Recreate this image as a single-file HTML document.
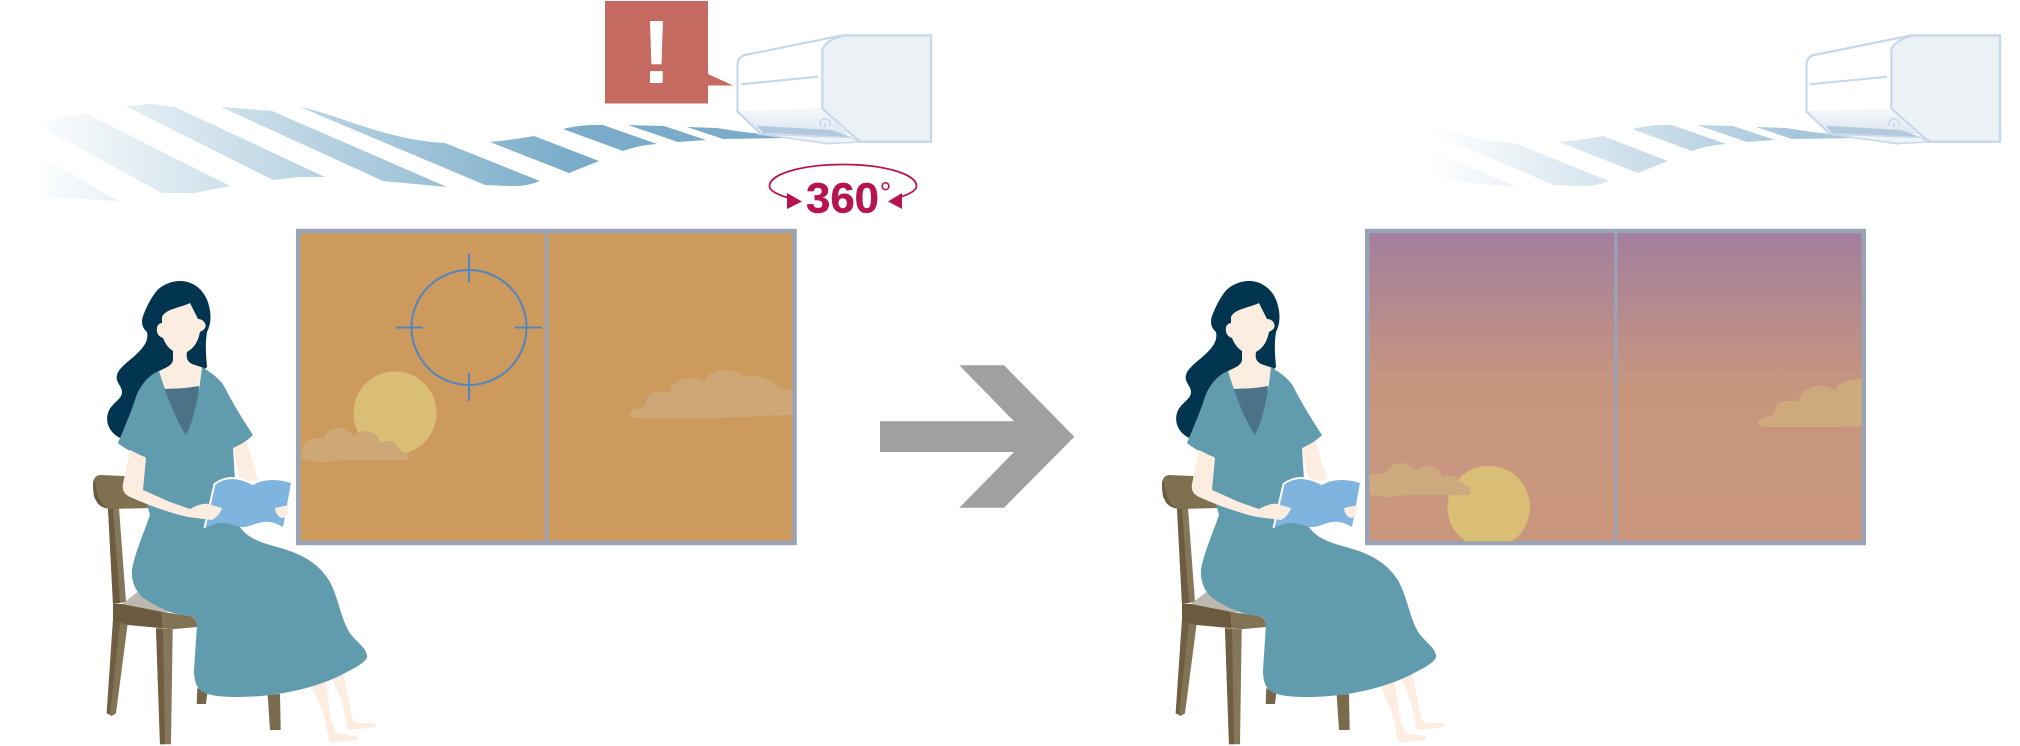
<!DOCTYPE html>
<html><head><meta charset="utf-8"><title>Diagram</title>
<style>html,body{margin:0;padding:0;background:#fff}svg{display:block}</style></head>
<body>
<svg xmlns="http://www.w3.org/2000/svg" width="2020" height="746" viewBox="0 0 2020 746">
<defs>
<linearGradient id="g1" gradientUnits="userSpaceOnUse" x1="25" y1="0" x2="570" y2="0"><stop offset="0" stop-color="#fff"/><stop offset="1" stop-color="#7aacc9"/></linearGradient>
<linearGradient id="g2" gradientUnits="userSpaceOnUse" x1="360" y1="0" x2="730" y2="0"><stop offset="0" stop-color="#fff"/><stop offset="1" stop-color="#a6c6da"/></linearGradient>
<linearGradient id="low" x1="0" y1="0" x2="0" y2="1"><stop offset="0" stop-color="#f6f9fb"/><stop offset="1" stop-color="#dde7f1"/></linearGradient>
<linearGradient id="sky" x1="0" y1="0" x2="0" y2="1"><stop offset="0" stop-color="#a37f9e"/><stop offset=".5" stop-color="#c7957e"/><stop offset="1" stop-color="#ca977e"/></linearGradient>
<clipPath id="clipR"><rect x="1369.5" y="233" width="492.5" height="308.5"/></clipPath>
<g id="bands">
<path d="M300 107 C340 115 385 140 445 143 L540 181 Q525 187 510 186 L485 185 Z"/>
<path d="M490 142 Q512 140 534 136 L599 161 L569 173 Z"/>
<path d="M563 129 Q583 124 603 125 L657 144 Q640 145 623 151 Z"/>
<path d="M628 125 L664 126 L706 140 L678 142 Z"/>
<path d="M687 127 L717 128 C730 130 742 132 753 133 L790 138 L723 139 Z"/>
<path d="M221 107 L272 111 L447 187 L383 181 Z"/>
<path d="M125 106 L152 104 L175 107 L325 177 L300 177 L273 180 Z"/>
<path d="M41 123 L85 113 L230 186 L195 193 L162 193 L41 127 Z"/>
<path d="M41 157 L118 201 L48 197 L41 195 Z"/>
</g>
<g id="ac" stroke-linejoin="round">
<path d="M737.5 66 Q737.5 57 745 55 L841.7 35.5 L931 35.5 L931 141.7 L862 141.7 L846 141.5 L828 143.5 L760 133 L737.5 111.5 Z" fill="#fff" stroke="#c6d8ea" stroke-width="2.2"/>
<path d="M738 111 L822.3 108.3 L848 134 L757 131 Z" fill="url(#low)"/>
<path d="M756.7 125.7 L832 130 L851 137 L763 133 Z" fill="#b2c9de"/>
<path d="M758 134 L851 137.5 L861 142 L828 143.5 Z" fill="#eef3f8" stroke="#c6d8ea" stroke-width="1.4"/>
<path d="M820.5 126 A5 5 0 1 1 829.5 126" fill="none" stroke="#c6d8ea" stroke-width="1.5"/>
<path d="M825 123 L825 127" stroke="#b2c9de" stroke-width="1.2"/>
<path d="M740.7 84.3 L818.3 76.7" stroke="#c6d8ea" stroke-width="2.2" fill="none"/>
<path d="M737.5 111.5 L760 133" stroke="#c6d8ea" stroke-width="2.2" fill="none"/>
<path d="M822.3 50 C824 43 835 37 845 35.5 L931 35.5 L931 141.7 L862 141.7 Q858 140 852 135 L822.3 108.3 Z" fill="#ecf1f6" stroke="#c6d8ea" stroke-width="2.2"/>
</g>
<g id="woman">
<path d="M197.3 688 L207.3 693 L206 704 L196.7 704 Z" fill="#75664a"/>
<path d="M267.7 695 L280 694 L280.7 730 L270 730 Z" fill="#7a6b4c"/>
<path d="M108 508 L119 508 L126 602 L113 604 Z" fill="#85775a"/>
<path d="M108 508 L113 508 L120 603 L113 604 Z" fill="#6d5c40"/>
<path d="M93 483 Q94 475 101 475 L143 477 L150 508 L110 509 Q98 507 96 500 Z" fill="#7f7150"/>
<path d="M93 483 Q93 498 96 500 Q98 507 110 509 L103 505 Q96 495 95 480 Z" fill="#6b5a3f"/>
<path d="M122 604 L140 590 L175 600 L172 612 L162 612 Z" fill="#bcb8b0"/>
<path d="M113 620 L127.7 623.3 L116 713.3 L111.7 716 L106.7 713.3 Z" fill="#817354"/>
<path d="M113 620 L120 622 L110 714.5 L106.7 713.3 Z" fill="#6f5e42"/>
<path d="M156 628.3 L172.7 629.3 L171 744.3 L160 744.3 Z" fill="#85775a"/>
<path d="M156 628.3 L163 628.5 L165 744.3 L160 744.3 Z" fill="#6f5e42"/>
<path d="M113 604 L122 604 L161.7 611.7 L162.7 628.3 L128 625 L120 622.7 L113 620 Z" fill="#6b5a3f"/>
<path d="M161.7 611.7 L190 616 Q197 618 197 625 L197 627 L172 629.3 L162.7 628.3 Z" fill="#807252"/>
<path d="M311.7 686.7 L326 681.7 L330 713 C332 722 334 730 337 733 L356 736 Q359 738 357 740 L333 742.5 Q328 742 328 736 C326 725 324 715 320 705 Z" fill="#fcede0"/>
<path d="M331.7 676.7 L343 673 L352 716 Q353 722 358 723 L374 723 Q378 725 375 727 L350 730 Q347 730 347 725 L342 702 Z" fill="#fcede0"/>
<path d="M180 281 C195 281 206 292 209 306 C212 318 210 326 207 332 C205 345 206 355 207 367 L170 400 L120 438 C110 433 105 423 108 413 C111 403 122 400 122 392 C122 386 115 382 117 375 C119 366 135 358 143 347 C147 342 148 337 147 332 C142 328 141 322 143 316 C147 306 150 300 155 293 C160 286 170 281 180 281 Z" fill="#01354f"/>
<path d="M162 317 C164 312 170 310 176 308 C182 306 186 305 190 303 L198 319 C204 319 207 325 205 328 C203 331 201 331 200 332 C198 342 194 348 187 352 C186 358 187 361 192 364 L204 368 L197 388 L165 389 L157 372 C165 368 172 366 173 360 L173 351 C168 348 165 343 163 338 C159 337 156 333 157 328 C157 325 160 323 162 323 Z" fill="#fbeddf"/>
<path d="M164 389 Q182 389 199 386 L198 412 L186 440 L172 412 Z" fill="#4c7287"/>
<path d="M233 448 L246.7 441 L258 480 L240 482 Z" fill="#fcede0"/>
<path d="M159 371 C168 400 176 420 186 435 C194 420 199 395 202 367 C210 372 219 378 224 386 C232 402 243 420 253 435 C247 441 240 445 233 448 L235 480 L240 527 C250 542 272 545 287 550 C305 556 320 565 330 582 C338 597 340 615 348 630 C353 640 368 648 367 657 C366 662 355 668 347 672 C320 687 280 697 237 697 C225 697 210 696 203 692 C196 688 194 680 194 670 L197 625 C197 620 195 617 190 616 C172 615 155 606 142 597 C135 590 131 580 132 570 C134 555 145 530 150 515 L143 490 L145 457 C135 454 125 449 118 443 C122 433 130 415 135 400 C138 388 148 375 159 371 Z" fill="#609cae"/>
<path d="M205 528 L215 485 C220 481 226 479 232 479 C240 479 247 482 253 485 C260 481 267 480 273 480 C279 480 285 481 291 483 L283 527 C276 523 270 521 263 522 C256 523 250 527 243 527 C236 527 230 523 223 523 C217 523 211 525 205 528 Z" fill="#7eb4de"/>
<path d="M204.5 528 L214.5 484 C220 480 226 478 232 478 C240 478 247 481 253 484" fill="none" stroke="#fff" stroke-width="2"/>
<path d="M130 450 L146 458 L143 490 L170 502 L190 509 C196 506 202 503 208 504 L222 508 C220 514 216 518 212 520 C204 519 196 518 188 517 C170 513 148 505 130 497 C124 494 122 490 123 484 Z" fill="#fcede0"/>
<path d="M275 508 L289 505 L287 515 Q284 518 281.7 518 Q276 516 275 508 Z" fill="#fcede0"/>
</g>
</defs>

<rect width="2020" height="746" fill="#fff"/>

<use href="#bands" fill="url(#g1)"/>
<use href="#bands" fill="url(#g2)" transform="translate(1069 0)"/>

<use href="#ac"/>
<use href="#ac" transform="translate(1069 0)"/>

<!-- Callout -->
<path d="M605 1 H708 V74 L733 85.5 H708 V103.5 H605 Z" fill="#c46a60"/>
<text x="656.5" y="83" font-family="'Liberation Sans',sans-serif" font-weight="700" font-size="90" text-anchor="middle" fill="#fff">!</text>

<!-- 360 -->
<path d="M789 198 C775 194 769.5 190 769.5 186 C769.5 174 802 164.5 843 164.5 C884 164.5 916.5 174 916.5 186 C916.5 190 911 194 897 198" fill="none" stroke="#b5144e" stroke-width="1.8"/>
<path d="M787 193 L802 201.5 L787 209 Z M902 193 L888 201.5 L902 209 Z" fill="#b5144e"/>
<text x="806" y="212.5" font-family="'Liberation Sans',sans-serif" font-weight="700" font-size="43" fill="#b5144e" stroke="#b5144e" stroke-width="0.4" textLength="73" lengthAdjust="spacingAndGlyphs">360</text>
<text x="879.5" y="203" font-family="'Liberation Sans',sans-serif" font-weight="400" font-size="30" fill="#b5144e">°</text>

<!-- Left window -->
<rect x="298.2" y="231" width="496.4" height="312" fill="#cd9a5d" stroke="#98a3b8" stroke-width="4.4"/>
<rect x="545" y="233" width="3.4" height="308" fill="#98a3b8"/>
<circle cx="395" cy="413" r="41.5" fill="#dabe75"/>
<path d="M301 455 C301 450 303 444 306 442 C311 438 318 438 324 438 C326 431 333 428 339 428 C345 428 350 432 354 437 C358 432 362 431 366 431 C373 431 379 436 380 443 C383 441 386 441 389 441 C394 441 397 444 398 447 C400 451 405 452 408 455 C409 458 408 460 405 460 L348 460 C338 460 332 462 324 462 C315 462 303 460 301 458 Z" fill="#cda876"/>
<path d="M629 413 C631 409 639 409 643 407 C648 403 645 393 656 392 C661 391 666 392 670 392 C672 384 680 378 690 378 C696 378 702 380 706 382 C705 375 716 370 726 370 C735 370 742 373 743 377 C750 376 755 376 760 377 C770 379 776 384 780 388 C785 389 790 390 792.5 391 L792.5 415 L719 418 L635 418 C631 418 628 416 629 413 Z" fill="#cda876"/>
<g fill="none" stroke="#5185c2">
<circle cx="469" cy="327.5" r="57.5" stroke-width="2"/>
<path d="M469 254 V282 M469 373 V401 M396 327.5 H423 M515 327.5 H542" stroke-width="2"/>
</g>

<!-- Arrow -->
<path d="M959.3 365.3 H1004 L1074.3 436.7 L1004 507.7 H959.3 L1014 452 H880 V421.3 H1014 Z" fill="#a0a0a0"/>

<!-- Right window -->
<rect x="1367.2" y="231" width="496.6" height="312" fill="url(#sky)" stroke="#98a3b8" stroke-width="4.4"/>
<rect x="1614.2" y="233" width="3.2" height="308" fill="#98a3b8"/>
<g clip-path="url(#clipR)">
<circle cx="1488.7" cy="507" r="41.3" fill="#dabe75"/>
<path d="M1366 475 L1386 473 C1388 467 1394 463 1400 463 C1407 463 1412 466 1416 470 C1419 467 1423 466 1427 466 C1435 466 1441 471 1442 477 C1445 475 1448 475 1450 476 C1455 476 1458 478 1459 480 C1461 484 1470 485 1471 491 C1471 494 1469 495 1467 495 L1413 495 C1400 495 1392 497 1383 497 L1366 494 Z" fill="#cfa97e"/>
<path d="M1758 422 C1759 417 1768 417 1772 415 C1777 411 1773 402 1786 401 C1790 401 1794 401 1798 402 C1800 393 1808 386 1820 386 C1827 386 1832 388 1836 391 C1835 384 1846 379 1862 379 L1866 379 L1866 426 L1840 427 L1765 427 C1760 427 1757 425 1758 422 Z" fill="#cfa97e"/>
</g>

<use href="#woman"/>
<use href="#woman" transform="translate(1069 0)"/>
</svg>
</body></html>
